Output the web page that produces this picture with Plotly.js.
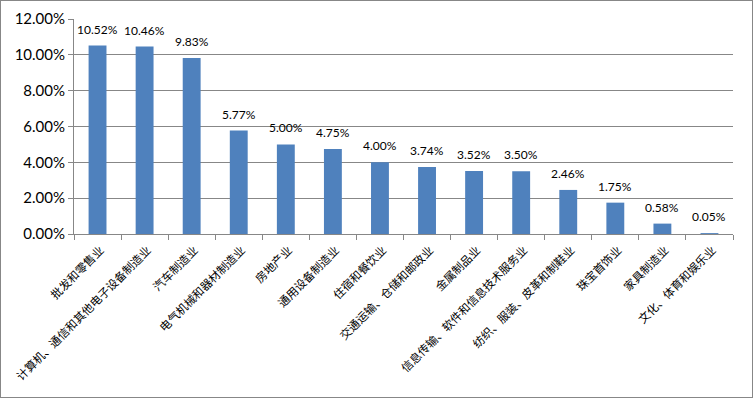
<!DOCTYPE html>
<html><head><meta charset="utf-8">
<script src="https://cdn.plot.ly/plotly-3.0.1.min.js"></script>
<style>html,body{margin:0;padding:0;background:#fff}#c{width:751px;height:396px;border:1px solid #878787}</style>
</head><body><div id="c"></div>
<script>
const categories = ["批发和零售业","计算机、通信和其他电子设备制造业","汽车制造业","电气机械和器材制造业","房地产业","通用设备制造业","住宿和餐饮业","交通运输、仓储和邮政业","金属制品业","信息传输、软件和信息技术服务业","纺织、服装、皮革和制鞋业","珠宝首饰业","家具制造业","文化、体育和娱乐业"];
const values = [10.52,10.46,9.83,5.77,5.00,4.75,4.00,3.74,3.52,3.50,2.46,1.75,0.58,0.05];
const yTicks = [0,2,4,6,8,10,12];
const yTickLabels = yTicks.map(v => v.toFixed(2) + "%");

const annotations = categories.map((c, i) => ({
  x: c, y: values[i], xref: "x", yref: "y",
  text: values[i].toFixed(2) + "%",
  showarrow: false, yanchor: "bottom", yshift: 7,
  font: {family: "Lato, 'Open Sans', sans-serif", size: 12, color: "#000"}
}));

Plotly.newPlot("c", [{
  type: "bar",
  x: categories,
  y: values,
  marker: {color: "#4f81bd"},
  hoverinfo: "none"
}], {
  width: 751, height: 396,
  margin: {l: 73, r: 19, t: 18, b: 163, pad: 0},
  paper_bgcolor: "#fff", plot_bgcolor: "#fff",
  bargap: 0.62,
  showlegend: false,
  annotations: annotations,
  xaxis: {
    type: "category",
    tickangle: -45,
    tickfont: {family: "'Noto Sans CJK SC', sans-serif", size: 11.5, color: "#000"},
    ticklabelstandoff: 4, ticklabelshift: 3,
    showline: true, linecolor: "#878787", linewidth: 1,
    ticks: "outside", tickson: "boundaries", ticklen: 5, tickcolor: "#878787",
    showgrid: false, automargin: false
  },
  yaxis: {
    range: [0, 12],
    tickvals: yTicks, ticktext: yTickLabels,
    tickfont: {family: "Lato, 'Open Sans', sans-serif", size: 15, color: "#000"},
    showline: true, linecolor: "#878787", linewidth: 1,
    ticks: "outside", ticklen: 5, tickcolor: "#878787",
    showgrid: true, gridcolor: "#878787", gridwidth: 1,
    zeroline: false, automargin: false
  }
}, {displayModeBar: false, staticPlot: true});
</script></body></html>
